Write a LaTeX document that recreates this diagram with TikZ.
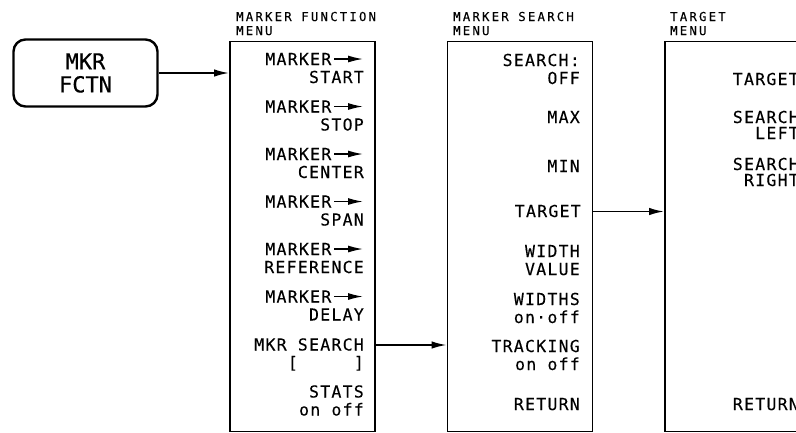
\documentclass[tikz,border=0pt]{standalone}
\usepackage{fontspec}
\usetikzlibrary{arrows.meta}
\newfontfamily\itemfont{DejaVu Sans Mono}[LetterSpace=7.7,FakeBold=0.25]
\newfontfamily\titlefont{DejaVu Sans Mono}[LetterSpace=18,FakeBold=0.25]
\newfontfamily\keyfont{DejaVu Sans Mono}[FakeBold=0.5]
\newcommand\mkarr{\hspace{2pt}\tikz[baseline={(0pt,-6pt)}]\draw[line width=1.5pt,-{Latex[length=15pt,width=7pt]}] (0pt,0pt) -- (29pt,0pt);}
\begin{document}
\begin{tikzpicture}[x=1pt,y=-1pt,
  menubox/.style={draw, line width=1.6pt, anchor=north west, inner sep=0pt, minimum height=390pt},
  keybox/.style={draw, line width=2.4pt, rounded corners=12pt, minimum width=144pt, minimum height=67pt, align=center, inner sep=0pt, font=\keyfont\fontsize{22}{23}\selectfont},
  item/.style={anchor=base east, align=right, inner sep=0pt, font=\itemfont\fontsize{16.5}{18}\selectfont},
  titem/.style={item, font=\itemfont\fontsize{16.5}{16}\selectfont},
  titl/.style={anchor=base west, align=left, inner sep=0pt, font=\titlefont\fontsize{12.3}{14}\selectfont},
  arr/.style={line width=1.6pt, -{Latex[length=15pt,width=7.5pt]}}]
\useasboundingbox (0,0) rectangle (796,432);
\clip (0,0) rectangle (796,432);

% key
\node[keybox] (mkr) at (85.5,73) {MKR\\FCTN};

% menu boxes
\node[menubox, minimum width=145pt] (fm) at (229,40.5) {};
\node[menubox, minimum width=145pt] (sm) at (446.5,40.5) {};
\node[menubox, minimum width=150pt] (tm) at (664,40.5) {};

% titles (base = last line)
\node[titl] (ft) at (236,35) {MARKER FUNCTION\\MENU};
\node[titl] (st) at (453,35) {MARKER SEARCH\\MENU};
\node[titl] (tt) at (670,35) {TARGET\\MENU};

% marker function menu items (base = last line)
\node[item] (f1) at (364,83)    {MARKER\mkarr\\START};
\node[item] (f2) at (364,130.5) {MARKER\mkarr\\STOP};
\node[item] (f3) at (364,178)   {MARKER\mkarr\\CENTER};
\node[item] (f4) at (364,225.5) {MARKER\mkarr\\SPAN};
\node[item] (f5) at (364,273)   {MARKER\mkarr\\REFERENCE};
\node[item] (f6) at (364,320.5) {MARKER\mkarr\\DELAY};
\node[item] (f7) at (364,368.5) {MKR SEARCH\\{[}\hspace{56pt}{]}};
\node[item] (f8) at (364,415.5) {STATS\\on off};

% marker search menu items
\node[item] (s1) at (580,84)  {SEARCH:\\OFF};
\node[item] (s2) at (580,123) {MAX};
\node[item] (s3) at (580,172) {MIN};
\node[item] (s4) at (581,217) {TARGET};
\node[item] (s5) at (580,275) {WIDTH\\VALUE};
\node[item] (s6) at (580,323) {WIDTHS\\on·off};
\node[item] (s7) at (580,370) {TRACKING\\on off};
\node[item] (s8) at (580,410) {RETURN};

% target menu items
\node[titem] (t1) at (799,85)  {TARGET};
\node[titem] (t2) at (799,139) {SEARCH\\LEFT};
\node[titem] (t3) at (799,186) {SEARCH\\RIGHT};
\node[titem] (t4) at (799,410) {RETURN};

% connectors
\draw[arr] (mkr.east) -- (mkr.east -| fm.west);
\coordinate (y2) at ([yshift=23.5pt]f7.base);
\draw[arr] (fm.east |- y2) -- (sm.west |- y2);
\coordinate (y3) at ([yshift=5.5pt]s4.base);
\draw[arr] (sm.east |- y3) -- (tm.west |- y3);
\end{tikzpicture}
\end{document}
